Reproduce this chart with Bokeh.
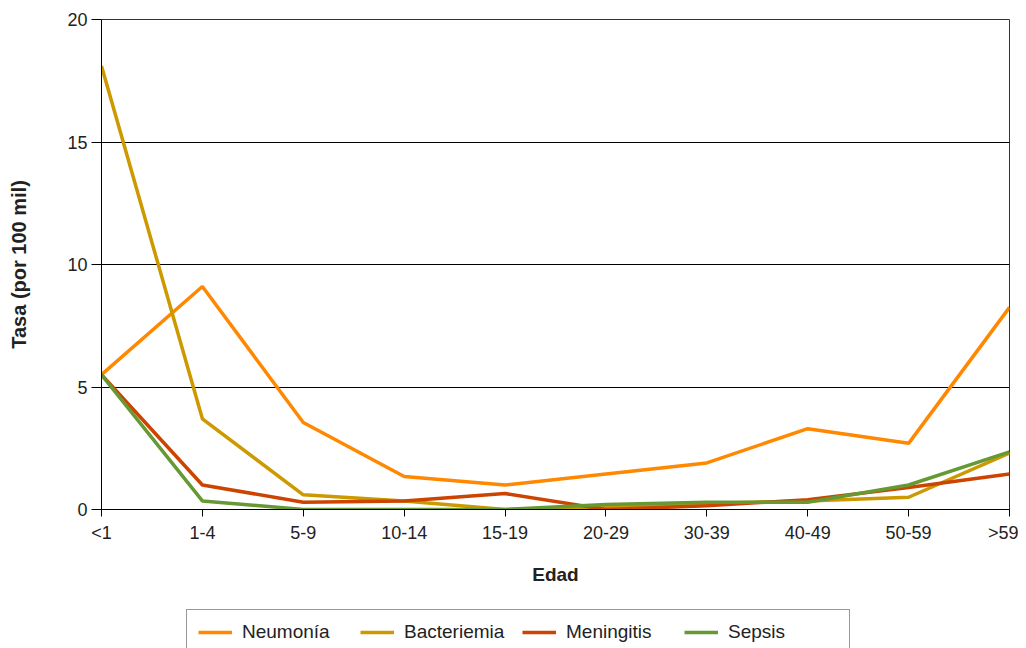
from bokeh.plotting import figure
from bokeh.models import Range1d, FixedTicker, Legend, LegendItem
from bokeh.layouts import column
from bokeh.embed import file_html
from bokeh.resources import INLINE

categories = ["<1", "1-4", "5-9", "10-14", "15-19", "20-29", "30-39", "40-49", "50-59", ">59"]
neumonia = [5.5, 9.1, 3.55, 1.35, 1.0, 1.45, 1.9, 3.3, 2.7, 8.25]
bacteriemia = [18.1, 3.7, 0.6, 0.35, 0.0, 0.08, 0.25, 0.35, 0.5, 2.3]
meningitis = [5.5, 1.0, 0.3, 0.35, 0.65, 0.0, 0.15, 0.4, 0.9, 1.45]
sepsis = [5.5, 0.35, 0.0, 0.0, 0.0, 0.2, 0.3, 0.3, 1.0, 2.35]
y_ticks = [0, 5, 10, 15, 20]

series = [
    ("Neumonía", neumonia, "#FF8800"),
    ("Bacteriemia", bacteriemia, "#CC9900"),
    ("Meningitis", meningitis, "#CC4400"),
    ("Sepsis", sepsis, "#669933"),
]

FONT = "Liberation Sans"
TXT = "#222222"
LW = 3.5

p = figure(width=1018, height=600, output_backend="svg", toolbar_location=None,
           x_range=Range1d(0, len(categories) - 1), y_range=Range1d(0, 20),
           min_border_left=101, min_border_top=19, min_border_right=9, min_border_bottom=91)

xs = list(range(len(categories)))
for name, vals, col in series:
    p.line(xs, vals, line_color=col, line_width=LW)

p.background_fill_color = "white"
p.border_fill_color = "white"
p.outline_line_color = "#333333"
p.outline_line_width = 1

p.xgrid.visible = False
p.ygrid.ticker = FixedTicker(ticks=y_ticks)
p.ygrid.grid_line_color = "black"
p.ygrid.grid_line_width = 1

xa = p.xaxis[0]
xa.ticker = FixedTicker(ticks=xs)
xa.major_label_overrides = {i: c for i, c in enumerate(categories)}
xa.axis_label = "Edad"
xa.major_tick_out = 7
xa.major_tick_in = 0
xa.minor_tick_out = 0
xa.minor_tick_in = 0
xa.major_label_standoff = 6
xa.axis_label_standoff = 18

ya = p.yaxis[0]
ya.ticker = FixedTicker(ticks=y_ticks)
ya.axis_label = "Tasa (por 100 mil)"
ya.major_tick_out = 10
ya.major_tick_in = 0
ya.minor_tick_out = 0
ya.minor_tick_in = 0
ya.major_label_standoff = 4
ya.axis_label_standoff = 34

for ax in (xa, ya):
    ax.axis_line_color = "black"
    ax.major_tick_line_color = "black"
    ax.major_label_text_font = FONT
    ax.major_label_text_font_size = "18px"
    ax.major_label_text_color = TXT
    ax.axis_label_text_font = FONT
    ax.axis_label_text_font_size = "19px"
    ax.axis_label_text_font_style = "bold"
    ax.axis_label_text_color = TXT
ya.axis_label_text_font_size = "20px"
ya.major_label_orientation = "horizontal"

# legend strip below the chart (its ranges keep the proxy lines out of view)
lg = figure(width=1018, height=48, output_backend="svg", toolbar_location=None,
            x_range=Range1d(-3, -2), y_range=Range1d(-3, -2),
            x_axis_location=None, y_axis_location=None,
            min_border_left=0, min_border_right=0, min_border_top=0, min_border_bottom=0)
lg.outline_line_color = None
lg.grid.visible = False
lg.background_fill_color = "white"
lg.border_fill_color = "white"
items = []
for name, vals, col in series:
    r = lg.line(xs, vals, line_color=col, line_width=LW)
    items.append(LegendItem(label=name, renderers=[r]))

legend = Legend(items=items, orientation="horizontal", location=(85, -7),
                glyph_width=34, glyph_height=20, label_standoff=10, label_width=110,
                spacing=8, padding=11, margin=0,
                label_text_font=FONT, label_text_font_size="19px", label_text_color=TXT,
                border_line_color="#333333", border_line_width=1,
                background_fill_color="white", background_fill_alpha=1)
lg.add_layout(legend, "center")

layout = column(p, lg, spacing=0)
open("out.html", "w").write(file_html(layout, INLINE))
